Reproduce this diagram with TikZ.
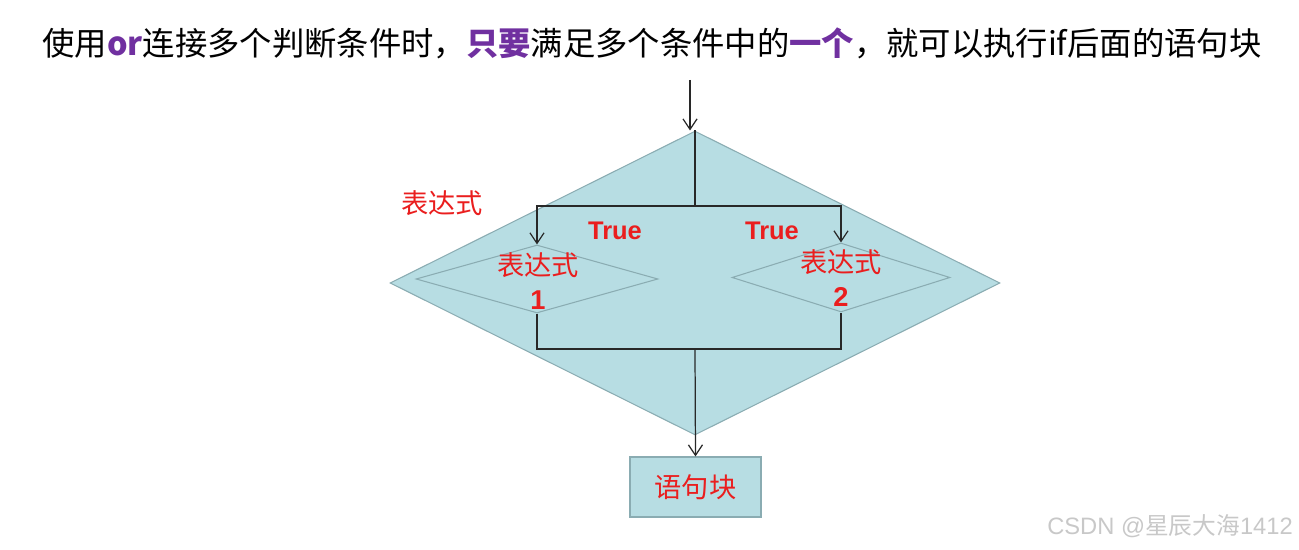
\documentclass[tikz,border=0pt]{standalone}
\usepackage{fontspec}
\usepackage{tikz}
\usetikzlibrary{arrows.meta, positioning, shapes.geometric, calc}
\setmainfont{Liberation Sans}
\newfontfamily\cjk{Noto Sans CJK SC}
\definecolor{boxfill}{RGB}{183,221,227}
\definecolor{boxedge}{RGB}{138,172,178}
\definecolor{labelred}{RGB}{234,30,30}
\definecolor{keypurple}{RGB}{112,48,160}
\definecolor{gray40}{RGB}{40,40,40}
\definecolor{gray200}{RGB}{200,200,200}

\begin{document}
\begin{tikzpicture}[x=0.02cm, y=-0.02cm,
    cond/.style={diamond, draw=boxedge, fill=boxfill, inner sep=0pt, line width=0.6pt},
    flow/.style={draw=gray40, line width=0.7pt},
    arr/.style={flow, -{Straight Barb[length=6pt,width=8pt]}},
    redtxt/.style={text=labelred, font=\cjk\fontsize{15.5}{19}\selectfont},
    truetxt/.style={text=labelred, font=\bfseries\fontsize{14.5}{17}\selectfont}]
    \useasboundingbox (0,0) rectangle (1299,550);

    \node[font=\cjk\fontsize{18.4}{22}\selectfont] (title) at (652,43)
      {使用\textcolor{keypurple}{\bfseries or}连接多个判断条件时，\textcolor{keypurple}{\bfseries 只要}满足多个条件中的\textcolor{keypurple}{\bfseries 一个}，就可以执行if后面的语句块};

    % outer and inner conditions
    \node[cond, minimum width=12.2cm, minimum height=6.08cm] (big) at (695,283) {};
    \node[cond, minimum width=4.84cm, minimum height=1.36cm] (d1) at (537,279) {};
    \node[cond, minimum width=4.36cm, minimum height=1.38cm] (d2) at (841,277.5) {};
    \node[draw=boxedge, fill=boxfill, line width=0.6pt, minimum width=2.62cm,
      minimum height=1.2cm, inner sep=0pt, redtxt] (block) at (695.5,487) {语句块};

    \node[redtxt] (outer) at (442,203) {表达式};
    \node[truetxt] (t1) at (615,231) {True};
    \node[truetxt] (t2) at (772,231) {True};
    \node[redtxt, align=center] (e1) at (538,281)
      {表达式\\{\normalfont\bfseries 1}};
    \node[redtxt, align=center] (e2) at (841,278)
      {表达式\\{\normalfont\bfseries 2}};

    % connectors
    \coordinate (in) at (690,80);
    \coordinate (split) at (695,206);
    \coordinate (merge) at (695,349);
    \draw[arr] (in) -- (in |- big.north);
    \draw[flow] (big.north) -- (split);
    \draw[arr] (split) -| (d1.north);
    \draw[arr] (split) -| (d2.north);
    \draw[flow] (d1.south) |- (merge) -| (d2.south);
    \draw[arr] (merge) -- (block.north);

    \node[text=gray200, font=\fontsize{13.5}{16}\selectfont] (mark) at (1170,526)
      {CSDN @{\cjk 星辰大海}1412};
\end{tikzpicture}
\end{document}
